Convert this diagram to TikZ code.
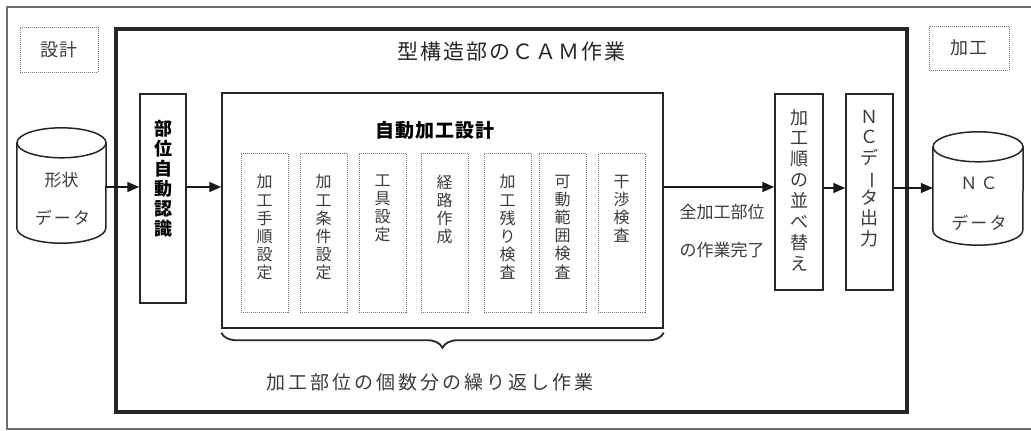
\documentclass[tikz,border=0pt]{standalone}
\usepackage{fontspec}
\usepackage{graphicx}
\setmainfont{Noto Sans CJK JP}
\usetikzlibrary{arrows.meta,decorations.pathreplacing}
\newcommand{\fs}[2]{\fontsize{#1}{#2}\selectfont}
\newcommand{\lsp}[1]{\addfontfeature{LetterSpace=#1}}
\newcommand{\vbar}{\rotatebox[origin=c]{-90}{ー}}
\definecolor{txt}{HTML}{3C3C3C}
\definecolor{frm}{HTML}{6E6E6E}
\begin{document}
\begin{tikzpicture}[x=1pt,y=-1pt,
  outerline/.style={draw=frm,line width=1.3pt},
  camframe/.style={draw=black!85,line width=4pt,inner sep=0pt},
  solidbox/.style={draw=black!85,line width=1.5pt,inner sep=0pt},
  dotbox/.style={draw=black!55,densely dotted,line width=1pt,inner sep=0pt},
  innerbox/.style={dotbox,minimum width=47pt,minimum height=159pt},
  plain/.style={inner sep=0pt,text=txt},
  vtext/.style={inner sep=0pt,align=center,anchor=north,text=txt},
  vin/.style={vtext,font=\fs{16}{18.2}},
  arr/.style={draw=black!90,line width=1.6pt,-{Triangle[length=12pt,width=10pt]}},
  bracest/.style={draw=black!85,line width=1.8pt,decorate,decoration={brace,mirror,amplitude=15pt}}
]
\useasboundingbox (0,0) rectangle (1031,431);
\fill[white] (0,0) rectangle (1031,431);
% outer frame (open on the right)
\draw[outerline] (1031,7) -- (7,7) -- (7,429) -- (1031,429);

% side boxes
\node[dotbox,minimum width=78pt,minimum height=45pt,text=txt,font=\fs{18}{20}\lsp{10}] (sekkei) at (59,49.5) {設計};
\node[dotbox,minimum width=80pt,minimum height=44pt,text=txt,font=\fs{18}{20}\lsp{10}] (kakou) at (969,48) {加工};

% CAM frame
\node[camframe,minimum width=791pt,minimum height=383pt] (cam) at (511.5,220.5) {};
\node[plain,text=black!85,font=\fs{21}{24}\lsp{9}] (camtitle) at (511.5,52) {型構造部のＣＡＭ作業};

% left cylinder
\node[inner sep=0pt,minimum width=89pt,minimum height=115pt] (cylL) at (61.5,185.5) {};
\draw[solidbox,fill=white] ([yshift=-15pt]cylL.north west) -- ([yshift=15pt]cylL.south west)
  arc[start angle=180,end angle=360,x radius=44.5pt,y radius=15pt] -- ([yshift=-15pt]cylL.north east);
\draw[solidbox] ([yshift=-15pt]cylL.north) ellipse[x radius=44.5pt,y radius=15pt];
\node[plain,font=\fs{17}{18}] (cylLa) at (61.5,180) {形状};
\node[plain,font=\fs{17}{18}\lsp{12}] (cylLb) at (62.5,218) {データ};

% part recognition
\node[solidbox,minimum width=46pt,minimum height=209pt] (bui) at (163,198.5) {};
\node[vtext,text=black,font=\bfseries\fs{18}{20}] (buit) at (163,120.5) {部\\位\\自\\動\\認\\識};

% automatic machining design
\node[solidbox,minimum width=441pt,minimum height=235pt] (jido) at (442.5,210.5) {};
\node[plain,text=black,font=\bfseries\fs{19}{22}\lsp{6}] (jidot) at (435,130) {自動加工設計};

\node[innerbox] (b1) at (264.5,232.5) {};
\node[innerbox] (b2) at (323.5,232.5) {};
\node[innerbox] (b3) at (382.5,232.5) {};
\node[innerbox] (b4) at (444.5,232.5) {};
\node[innerbox] (b5) at (507.5,232.5) {};
\node[innerbox] (b6) at (562.5,232.5) {};
\node[innerbox] (b7) at (621.5,232.5) {};
\node[vin] (t1) at (264.5,174.5) {加\\工\\手\\順\\設\\定};
\node[vin] (t2) at (323.5,174.5) {加\\工\\条\\件\\設\\定};
\node[vin] (t3) at (382.5,174.5) {工\\具\\設\\定};
\node[vin] (t4) at (444.5,174.5) {経\\路\\作\\成};
\node[vin] (t5) at (507.5,174.5) {加\\工\\残\\り\\検\\査};
\node[vin] (t6) at (562.5,174.5) {可\\動\\範\\囲\\検\\査};
\node[vin] (t7) at (621.5,174.5) {干\\渉\\検\\査};

% brace
\draw[bracest] ([yshift=-4pt]jido.south west) -- ([yshift=-4pt]jido.south east);
\node[plain,font=\fs{19}{22}\lsp{16}] (repeat) at (430,382) {加工部位の個数分の繰り返し作業};

% completion label
\node[plain,font=\fs{17}{20}] (comp1) at (722,212) {全加工部位};
\node[plain,font=\fs{17}{20}] (comp2) at (722,250) {の作業完了};

% sort and NC output
\node[solidbox,minimum width=48pt,minimum height=196pt] (jun) at (799,192) {};
\node[vtext,font=\fs{18}{20.9}] (junt) at (799,109) {加\\工\\順\\の\\並\\べ\\替\\え};
\node[solidbox,minimum width=47pt,minimum height=196pt] (ncout) at (869.5,192) {};
\node[vtext,font=\fs{18}{20.3}] (ncoutt) at (869.5,110) {Ｎ\\Ｃ\\デ\\\vbar\\タ\\出\\力};

% right cylinder
\node[inner sep=0pt,minimum width=90pt,minimum height=113pt] (cylR) at (978,188.5) {};
\draw[solidbox,fill=white] ([yshift=-15pt]cylR.north west) -- ([yshift=15pt]cylR.south west)
  arc[start angle=180,end angle=360,x radius=45pt,y radius=15pt] -- ([yshift=-15pt]cylR.north east);
\draw[solidbox] ([yshift=-15pt]cylR.north) ellipse[x radius=45pt,y radius=15pt];
\node[plain,font=\fs{17}{18}\lsp{20}] (cylRa) at (979,183) {ＮＣ};
\node[plain,font=\fs{17}{18}\lsp{12}] (cylRb) at (979,223) {データ};

% arrows
\coordinate (ya) at (0,187);
\coordinate (yb) at (0,188);
\draw[arr] (cylL.east |- ya) -- (bui.west |- ya);
\draw[arr] (bui.east |- ya) -- (jido.west |- ya);
\draw[arr] (jido.east |- ya) -- (jun.west |- ya);
\draw[arr] (jun.east |- yb) -- (ncout.west |- yb);
\draw[arr] (ncout.east |- yb) -- (cylR.west |- yb);
\end{tikzpicture}
\end{document}
